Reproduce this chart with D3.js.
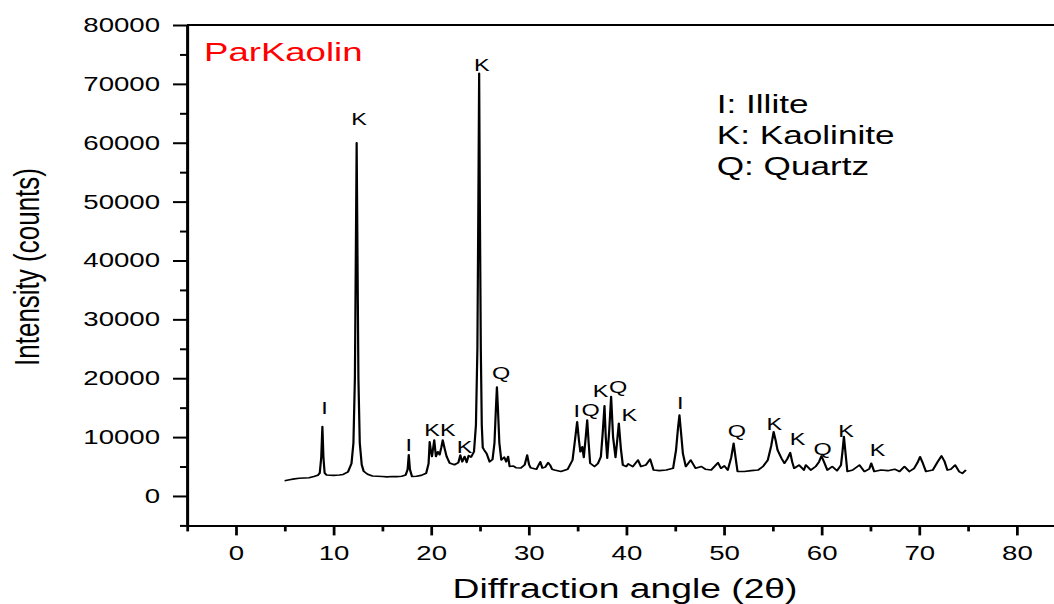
<!DOCTYPE html>
<html><head><meta charset="utf-8">
<script src="https://cdn.jsdelivr.net/npm/d3@7"></script>
<style>
body{margin:0;background:#fff}
svg{display:block}
text{font-family:"Liberation Sans",Arial,Helvetica,sans-serif}
</style>
</head><body>
<svg id="chart" width="1054" height="604"></svg>
<script>
// ---- data ----
const angles = [5.0,5.5,6.0,6.5,7.0,7.5,8.0,8.4,8.6,8.75,8.87,8.98,9.1,9.3,10.0,10.6,11.0,11.5,11.85,12.05,12.2,12.3,12.38,12.46,12.56,12.7,12.9,13.1,13.5,14.0,14.5,15.0,15.5,16.0,16.5,17.0,17.4,17.6,17.72,17.84,18.05,18.5,19.0,19.5,19.75,19.86,20.0,20.1,20.33,20.5,20.7,20.88,21.05,21.2,21.4,21.6,21.9,22.4,22.8,23.0,23.2,23.44,23.65,23.85,24.1,24.4,24.6,24.75,24.85,24.93,25.0,25.1,25.2,25.3,25.45,25.7,26.0,26.3,26.5,26.65,26.75,26.85,27.0,27.2,27.5,27.7,27.9,28.05,28.4,28.7,29.2,29.6,29.85,30.05,30.2,30.8,31.2,31.4,31.7,32.0,32.2,32.4,32.65,33.3,34.0,34.5,34.75,34.97,35.15,35.3,35.5,35.65,35.85,36.0,36.15,36.3,36.75,37.1,37.4,37.6,37.77,37.9,38.05,38.25,38.45,38.65,38.9,39.05,39.24,39.45,39.65,40.0,40.2,40.67,41.2,41.5,42.0,42.45,42.8,43.4,44.1,44.8,45.1,45.3,45.45,45.6,45.8,46.1,46.6,47.1,47.7,48.1,48.7,49.4,49.7,50.05,50.4,50.75,51.0,51.2,51.4,52.1,52.8,53.5,54.0,54.5,54.85,55.1,55.3,55.5,55.9,56.2,56.5,56.8,57.0,57.2,57.7,58.2,58.4,58.9,59.4,59.75,60.0,60.25,60.6,61.1,61.6,62.0,62.15,62.3,62.45,62.65,63.2,63.9,64.4,64.9,65.1,65.4,66.1,66.8,67.5,68.0,68.5,69.0,69.5,69.85,70.1,70.4,70.7,71.4,71.9,72.3,72.6,72.9,73.25,73.7,74.1,74.45,74.8];
const intensities = [2600,2750,2900,3000,3050,3100,3300,3500,3900,6500,11800,6500,3900,3550,3500,3550,3650,4100,5500,9000,20000,42000,60000,42000,20000,9000,5300,4200,3700,3400,3350,3300,3250,3300,3280,3350,3550,4500,7000,4500,3300,3350,3500,3850,5500,9200,7500,6700,9500,6700,7500,7000,8200,9500,8000,6700,5600,5300,5650,6950,5800,6700,5700,6850,6600,7500,12000,25000,50000,71800,50000,25000,12000,8200,7800,7200,5800,6200,9000,15000,18500,15000,9000,6100,6600,5800,6700,5000,5100,4800,4750,5300,6950,5300,4800,4550,5800,4750,4900,5650,5250,4550,4400,4150,4550,6100,9500,12600,9500,7500,8350,6550,10000,12900,9000,5550,5000,5500,6650,11000,15300,10000,6400,11000,16900,10000,6550,9000,12350,8000,5250,5000,5450,5000,6100,5000,5250,6250,4400,4300,4400,4700,7800,11500,13750,11000,7250,5000,6100,4700,5000,4550,4400,5650,4700,5100,4400,6500,8950,6500,4150,4150,4300,4400,5000,6100,8500,10900,9500,7800,6400,5550,6300,7350,5800,4700,5250,4400,5250,4400,5000,5800,6800,5800,4400,5000,4300,5250,7500,10100,7500,4150,4400,5250,4150,4600,5550,4150,4400,4300,4550,4150,5000,4150,4700,5700,6650,5500,4150,4400,5800,6800,5900,4400,4550,5250,4150,3850,4400];

const xTicks = [0,10,20,30,40,50,60,70,80];
const xMinorTicks = [-5,5,15,25,35,45,55,65,75,85];
const yTicks = [0,10000,20000,30000,40000,50000,60000,70000,80000];
const yMinorTicks = [-5000,5000,15000,25000,35000,45000,55000,65000,75000];

const peakLabels      = ["I","K","I","K","K","K","K","Q","I","Q","K","Q","K","I","Q","K","K","Q","K","K"];
const peakLabelAngles = [9.08,12.63,17.73,20.1,21.72,23.44,25.2,27.18,34.94,36.35,37.37,39.17,40.32,45.54,51.33,55.17,57.56,60.12,62.51,65.76];
const peakLabelCounts = [13880,63030,7650,10190,10190,7300,72200,19880,13470,13590,16800,17500,12790,14780,10020,11130,8660,6970,10070,6800];

const legendLines = ["I: Illite","K: Kaolinite","Q: Quartz"];
const sampleName = "ParKaolin";
const xTitle = "Diffraction angle (2θ)";
const yTitle = "Intensity (counts)";

// ---- drawing ----
const SX = 1.38; // horizontal stretch of the original figure
const svg = d3.select("#chart");
const g = svg.append("g").attr("transform", `scale(${SX},1)`);

const x = d3.scaleLinear().domain([-5, 85]).range([187 / SX, 1065.5 / SX]);
const y = d3.scaleLinear().domain([-5000, 80000]).range([525.4, 25]);

function styleAxis(sel, fs) {
  sel.selectAll("path").attr("stroke", "#000").attr("stroke-width", 2);
  sel.selectAll("line").attr("stroke", "#000").attr("stroke-width", 2);
  sel.selectAll("text").attr("font-size", fs).attr("fill", "#000")
     .attr("font-family", '"Liberation Sans",Arial,Helvetica,sans-serif');
  sel.attr("font-family", null).attr("font-size", null);
}

// minor ticks
g.append("g").attr("transform", `translate(${x(-5)},0)`)
  .call(d3.axisLeft(y).tickValues(yMinorTicks).tickSize(7 / SX).tickSizeOuter(0).tickFormat(""))
  .call(s => styleAxis(s, 20));
g.append("g").attr("transform", `translate(0,${y(-5000)})`)
  .call(d3.axisBottom(x).tickValues(xMinorTicks).tickSize(6).tickSizeOuter(0).tickFormat(""))
  .call(s => styleAxis(s, 20));

// major ticks with labels
g.append("g").attr("transform", `translate(${x(-5)},0)`)
  .call(d3.axisLeft(y).tickValues(yTicks).tickSize(14 / SX).tickSizeOuter(0).tickPadding(9.4).tickFormat(d3.format("d")))
  .call(s => styleAxis(s, 20));
g.append("g").attr("transform", `translate(0,${y(-5000)})`)
  .call(d3.axisBottom(x).tickValues(xTicks).tickSize(10).tickSizeOuter(0).tickPadding(10).tickFormat(d3.format("d")))
  .call(s => styleAxis(s, 20));

// top frame line
g.append("line")
  .attr("x1", x(-5)).attr("x2", x(85))
  .attr("y1", y(80000)).attr("y2", y(80000))
  .attr("stroke", "#000").attr("stroke-width", 2);

// pattern
const pts = angles.map((a, i) => [a, intensities[i]]);
g.append("path")
  .datum(pts)
  .attr("fill", "none")
  .attr("stroke", "#000")
  .attr("stroke-width", 1.6)
  .attr("stroke-linejoin", "round")
  .attr("d", d3.line().x(d => x(d[0])).y(d => y(d[1])));

// peak labels
g.selectAll("text.peak")
  .data(peakLabels.map((t, i) => ({t, a: peakLabelAngles[i], c: peakLabelCounts[i]})))
  .join("text")
  .attr("class", "peak")
  .attr("x", d => x(d.a))
  .attr("y", d => y(d.c))
  .attr("text-anchor", "middle")
  .attr("font-size", 17)
  .attr("fill", "#000")
  .text(d => d.t);

// sample name
g.append("text")
  .attr("x", 204 / SX).attr("y", 61)
  .attr("font-size", 26.5)
  .attr("fill", "#ff0000")
  .text(sampleName);

// legend text
g.selectAll("text.leg")
  .data(legendLines)
  .join("text")
  .attr("class", "leg")
  .attr("x", 716.7 / SX)
  .attr("y", (d, i) => 113.3 + i * 31)
  .attr("font-size", 25.5)
  .attr("fill", "#000")
  .text(d => d);

// axis titles
g.append("text")
  .attr("x", 625 / SX).attr("y", 598.5)
  .attr("text-anchor", "middle")
  .attr("font-size", 27)
  .attr("fill", "#000")
  .text(xTitle);

g.append("text")
  .attr("transform", `translate(${39 / SX},267) rotate(-90)`)
  .attr("text-anchor", "middle")
  .attr("font-size", 26)
  .attr("fill", "#000")
  .text(yTitle);
</script>
</body></html>
